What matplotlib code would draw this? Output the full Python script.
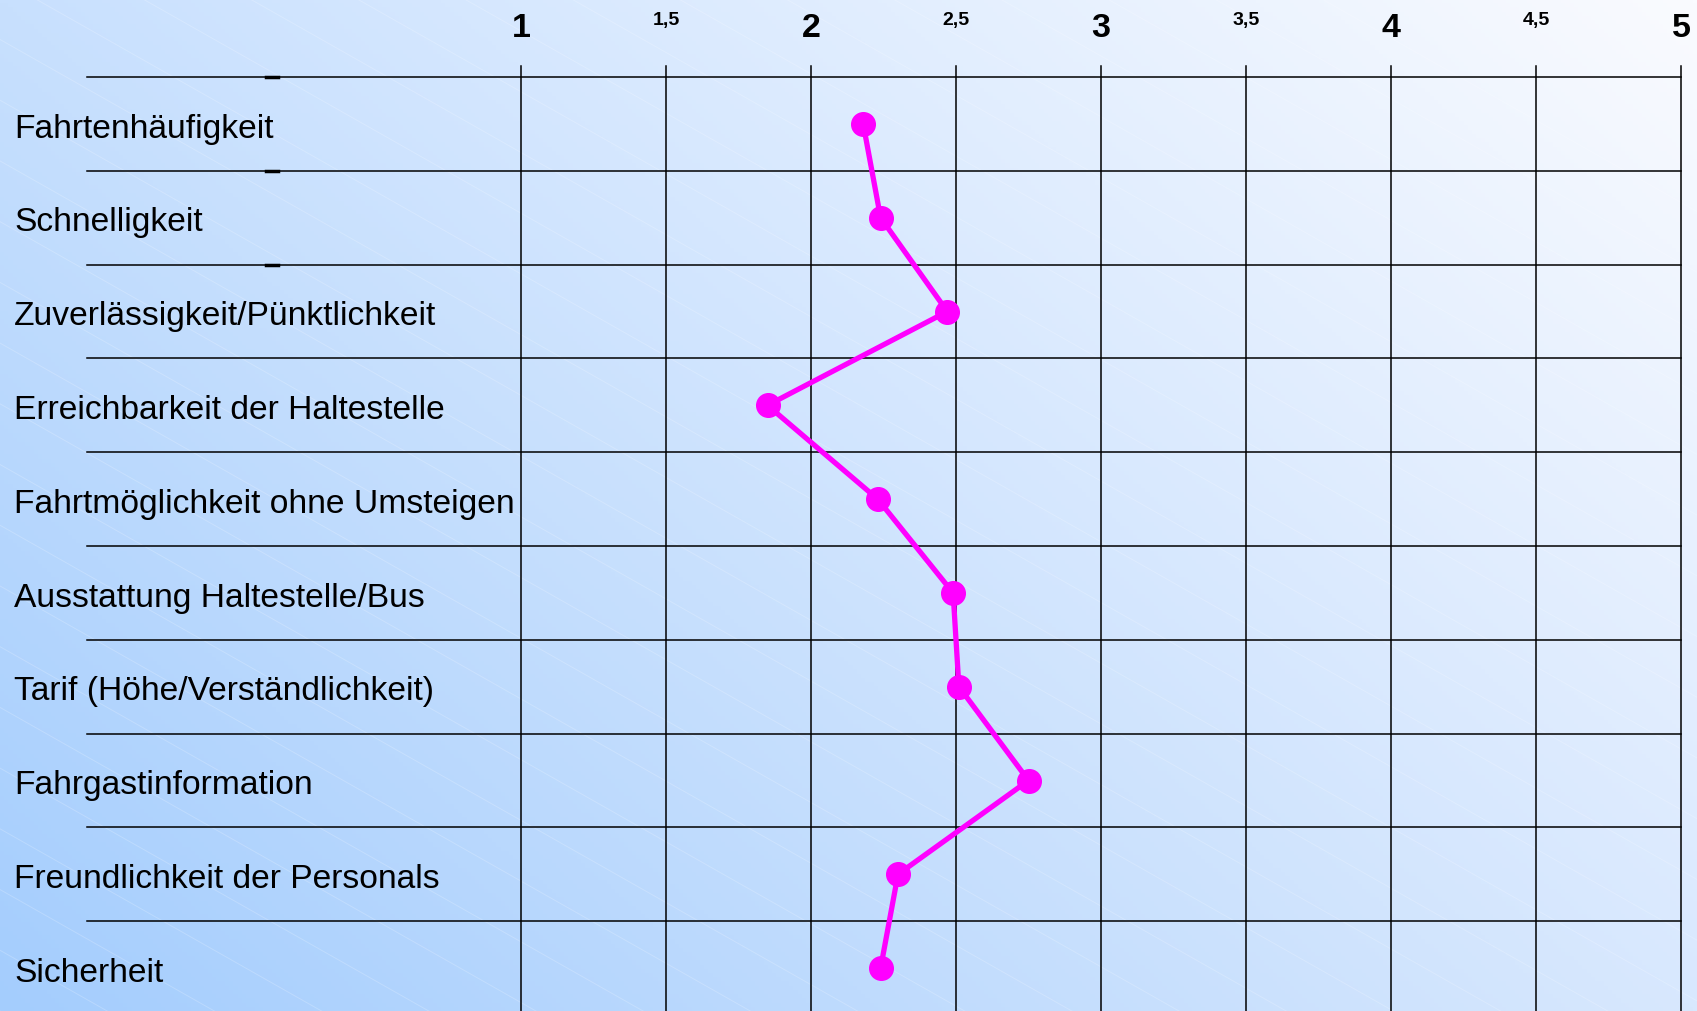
import numpy as np
import matplotlib.pyplot as plt
from matplotlib.colors import to_rgb

# Data
categories = [
    "Fahrtenhäufigkeit",
    "Schnelligkeit",
    "Zuverlässigkeit/Pünktlichkeit",
    "Erreichbarkeit der Haltestelle",
    "Fahrtmöglichkeit ohne Umsteigen",
    "Ausstattung Haltestelle/Bus",
    "Tarif (Höhe/Verständlichkeit)",
    "Fahrgastinformation",
    "Freundlichkeit der Personals",
    "Sicherheit",
]
scores = [2.18, 2.24, 2.47, 1.85, 2.23, 2.49, 2.51, 2.75, 2.30, 2.24]
major_ticks = [1, 2, 3, 4, 5]
minor_ticks = [1.5, 2.5, 3.5, 4.5]
major_labels = ["1", "2", "3", "4", "5"]
minor_labels = ["1,5", "2,5", "3,5", "4,5"]

W, H = 1697, 1012
fig = plt.figure(figsize=(W / 100, H / 100), dpi=100)
plt.rcParams['font.family'] = ['Liberation Sans', 'DejaVu Sans']

# Background: bilinear gradient between the four corner colours
bg = fig.add_axes([0, 0, 1, 1], zorder=0)
bg.set_axis_off()
tl, tr = np.array(to_rgb('#c8e0fe')), np.array(to_rgb('#fafbff'))
bl, br = np.array(to_rgb('#a4cdfd')), np.array(to_rgb('#d8e8fe'))
u = np.linspace(0, 1, 400)[None, :, None]
v = np.linspace(0, 1, 240)[:, None, None]
img = (1 - v) * ((1 - u) * tl + u * tr) + v * ((1 - u) * bl + u * br)
bg.imshow(img, extent=[0, 1, 0, 1], aspect='auto', origin='upper')
# faint diagonal hatch
for c in np.arange(-1.2, 1.8, 0.06):
    xs = np.array([0, 1])
    bg.plot(xs, c - 0.95 * xs, color='white', lw=0.7, alpha=0.2)
bg.set_xlim(0, 1)
bg.set_ylim(0, 1)

# Main axes covering the whole figure
ax = fig.add_axes([0, 0, 1, 1], zorder=1)
ax.patch.set_alpha(0)
ax.set_axis_off()

unit = 290.0          # px per score unit
x1_px = 521.0         # px of score 1
row = 93.8            # px per row
top_px = 78.0         # px of first horizontal line
ax.set_xlim(1 - x1_px / unit, 1 + (W - x1_px) / unit)
ax.set_ylim((H - top_px) / row - 0.5, -0.5 - top_px / row)

n = len(categories)
ypos = np.arange(n)
x_left = 1 - (x1_px - 87) / unit
y_vtop = -0.5 - 11 / row

# horizontal grid lines
for b in np.arange(n) - 0.5:
    ax.plot([x_left, 5], [b, b], color='black', lw=1.1, zorder=2)
# little dashes on first rows
for b in [-0.5, 0.5, 1.5]:
    xm = 1 - (x1_px - 272) / unit
    ax.plot([xm - 0.02, xm + 0.02], [b, b], color='black', lw=2.5, zorder=2)

# vertical grid lines
for v in major_ticks + minor_ticks:
    ax.plot([v, v], [y_vtop, n], color='black', lw=1.1, zorder=2)

# tick labels on top
y_lab = -0.5 - (top_px - 13) / row
for v, t in zip(major_ticks, major_labels):
    ax.text(v, y_lab, t, ha='center', va='top', fontsize=24.5,
            fontweight='bold', color='black')
for v, t in zip(minor_ticks, minor_labels):
    ax.text(v, y_lab - 0.01, t, ha='center', va='top', fontsize=14,
            fontweight='bold', color='black')

# category labels
for yy, lab in zip(ypos, categories):
    ax.text(1 - (x1_px - 14) / unit, yy + 0.045, lab, ha='left', va='center',
            fontsize=24.2, color='black')

# profile line
ax.plot(scores, ypos, color='#ff00ff', lw=3.8, marker='o', markersize=17,
        markerfacecolor='#ff00ff', markeredgecolor='#ff00ff', zorder=3,
        clip_on=False)

fig.savefig('out.png', dpi=100)
